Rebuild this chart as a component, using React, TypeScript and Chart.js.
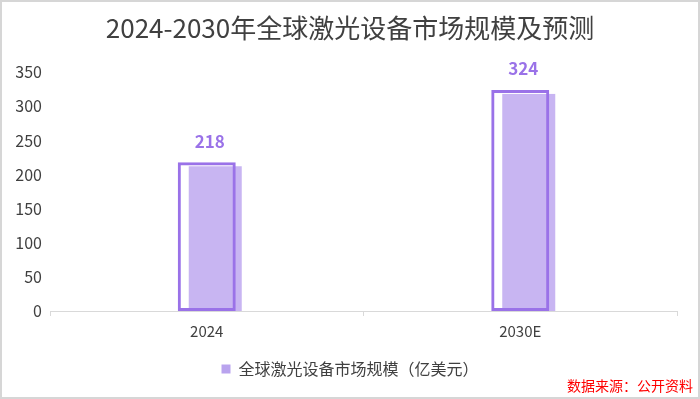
import React, { useEffect, useRef } from "react";
import { Chart, registerables } from "chart.js";

Chart.register(...registerables);

const categories: string[] = ["2024", "2030E"];
const marketSize: number[] = [218, 324];
const yTicks: number[] = [0, 50, 100, 150, 200, 250, 300, 350];
const titleText = "2024-2030年全球激光设备市场规模及预测";
const seriesLabel = "全球激光设备市场规模（亿美元）";
const sourceText = "数据来源：公开资料";

const FONT = '"Noto Sans CJK SC", "Noto Sans", sans-serif';
const OUTLINE = "#9a72e8";
const FILL = "rgba(190,168,240,0.85)";
const LABEL = "#9a72e8";

const shadowAndLabels = {
  id: "shadowAndLabels",
  beforeDatasetsDraw(chart: any) {
    const ctx = chart.ctx;
    const meta = chart.getDatasetMeta(0);
    const base = chart.scales.y.getPixelForValue(0);
    ctx.save();
    ctx.fillStyle = FILL;
    meta.data.forEach((bar: any) => {
      const w = bar.width;
      const left = bar.x - w / 2 + 11;
      const right = bar.x + w / 2 + 6;
      const top = bar.y + 4;
      ctx.fillRect(left, top, right - left, base - top);
    });
    ctx.restore();
  },
  afterDatasetsDraw(chart: any) {
    const ctx = chart.ctx;
    const meta = chart.getDatasetMeta(0);
    const data = chart.data.datasets[0].data;
    ctx.save();
    ctx.fillStyle = LABEL;
    ctx.font = `bold 17px ${FONT}`;
    ctx.textAlign = "center";
    ctx.textBaseline = "middle";
    meta.data.forEach((bar: any, i: number) => {
      ctx.fillText(String(data[i]), bar.x + 3, bar.y - 21);
    });
    ctx.restore();
  },
};

export default function App() {
  const ref = useRef<HTMLCanvasElement>(null);
  useEffect(() => {
    if (!ref.current) return;
    const chart = new Chart(ref.current, {
      type: "bar",
      data: {
        labels: categories,
        datasets: [
          {
            label: seriesLabel,
            data: marketSize,
            backgroundColor: "rgba(0,0,0,0)",
            borderColor: OUTLINE,
            borderWidth: 3,
            borderSkipped: false,
            barPercentage: 0.37,
            categoryPercentage: 0.5,
          },
        ],
      },
      options: {
        responsive: true,
        maintainAspectRatio: false,
        animation: false,
        layout: { padding: { top: 10, bottom: 10, left: 14, right: 14 } },
        plugins: {
          title: {
            display: true,
            text: titleText,
            color: "#404040",
            font: { family: FONT, size: 26, weight: "normal" },
            padding: { top: 1, bottom: 28 },
          },
          legend: {
            display: true,
            position: "bottom",
            labels: {
              color: "#404040",
              font: { family: FONT, size: 16 },
              boxWidth: 9,
              boxHeight: 9,
              padding: 15,
              generateLabels: () => [
                {
                  text: seriesLabel,
                  fillStyle: "#b9a3ee",
                  strokeStyle: "#b9a3ee",
                  lineWidth: 0,
                  fontColor: "#404040",
                  datasetIndex: 0,
                },
              ],
            },
          },
          tooltip: { enabled: false },
        },
        scales: {
          x: {
            grid: {
              display: true,
              drawOnChartArea: false,
              offset: true,
              tickLength: 5,
              color: "#d9d9d9",
            },
            border: { display: true, color: "#d9d9d9" },
            ticks: { color: "#404040", font: { family: FONT, size: 15 }, padding: 6 },
          },
          y: {
            min: 0,
            max: 350,
            afterBuildTicks: (axis: any) => {
              axis.ticks = yTicks.map((v) => ({ value: v }));
            },
            afterFit: (s: any) => {
              s.width = 34;
            },
            grid: { display: false, drawTicks: false },
            border: { display: false },
            ticks: { color: "#404040", font: { family: FONT, size: 16 }, padding: 8 },
          },
          yRight: {
            position: "right",
            display: true,
            min: 0,
            max: 350,
            afterFit: (s: any) => {
              s.width = 7;
            },
            grid: { display: false, drawTicks: false },
            border: { display: false },
            ticks: { display: false },
          },
        },
      },
      plugins: [shadowAndLabels],
    });
    return () => chart.destroy();
  }, []);

  return (
    <div
      style={{
        position: "fixed",
        left: 0,
        top: 0,
        width: 700,
        height: 399,
        boxSizing: "border-box",
        border: "2px solid #d6d6d6",
        background: "#fff",
      }}
    >
      <canvas ref={ref} />
      <div
        style={{
          position: "absolute",
          right: 5,
          bottom: 2,
          color: "#ff0000",
          fontFamily: FONT,
          fontSize: 14,
          lineHeight: "20px",
        }}
      >
        {sourceText}
      </div>
    </div>
  );
}
